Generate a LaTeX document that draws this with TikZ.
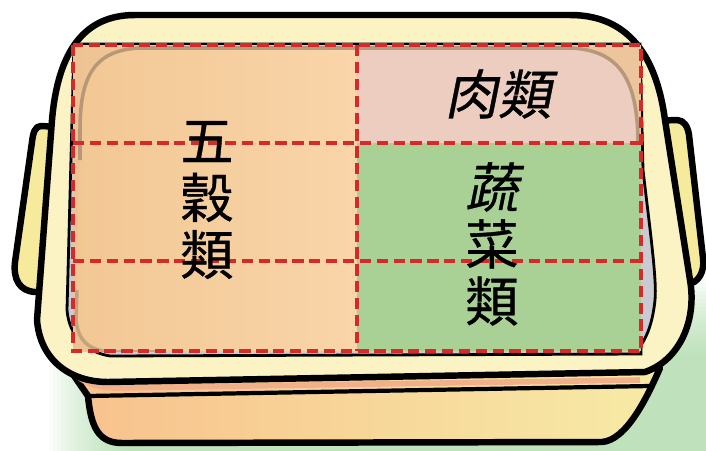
\documentclass[tikz,border=0pt]{standalone}
\usepackage{fontspec}
\newfontfamily\cjk[FakeBold=0.6]{Noto Sans CJK TC}
\newfontfamily\cjkslant[FakeSlant=0.2,FakeBold=0.6]{Noto Sans CJK TC}
\definecolor{lidcream}{HTML}{FBF3C4}
\definecolor{handleyellow}{HTML}{F6EB9C}
\definecolor{basesalmon}{HTML}{F2B08A}
\definecolor{baseorange}{HTML}{F8C18D}
\definecolor{baseyellow}{HTML}{F7EBA6}
\definecolor{wellgrey}{HTML}{CACAD3}
\definecolor{grainpeach}{HTML}{F9D5A9}
\definecolor{grainshade}{HTML}{F2C794}
\definecolor{meatpink}{HTML}{ECCDC0}
\definecolor{vegegreen}{HTML}{A9D196}
\definecolor{traybrown}{HTML}{A98C70}
\definecolor{cornertan}{HTML}{EDC394}
\definecolor{gridred}{HTML}{D42A2A}
\definecolor{shadowgreen}{HTML}{9CD398}

\begin{document}
\begin{tikzpicture}[x=0.025cm, y=-0.025cm,
  outline/.style={draw=black, line width=4.6pt, line join=round},
  rim/.style={draw=black, line width=2pt},
  cutline/.style={draw=gridred, line width=2.4pt, dash pattern=on 8pt off 4pt},
  foodlabel/.style={font=\cjk\fontsize{38}{40.5}\selectfont, align=center, inner sep=0pt}]
  \useasboundingbox (0,0) rectangle (706,450);

  % soft green shadow under the box
  \foreach \i in {0,...,19}
    \fill[shadowgreen, opacity=0.05, rounded corners=1.2cm] (125-4*\i,355-4*\i) rectangle (780,520);

  % side handles
  \filldraw[fill=handleyellow, outline] (60,127) -- (41,126) .. controls (35,126) and (33,133) .. (32,142)
    -- (15,262) .. controls (13,280) and (20,291) .. (35,292) -- (55,292) -- cycle;
  \filldraw[fill=handleyellow, outline] (650,121) -- (677,120) .. controls (684,120) and (688,127) .. (689,135)
    -- (703,258) .. controls (705,272) and (698,283) .. (688,284) -- (670,284) -- cycle;

  % base tray
  \shadedraw[outline, left color=baseorange, right color=baseyellow] (70,370) -- (88,396)
    .. controls (91,428) and (99,443) .. (122,443) -- (602,442)
    .. controls (626,440) and (646,400) .. (660,368) -- cycle;
  \draw[basesalmon, line width=4pt] (72,372) .. controls (85,384) and (100,388) .. (115,388) -- (640,380);
  \draw[black, line width=3pt] (88,396) -- (650,386);

  % lid
  \filldraw[fill=lidcream, outline] (135,15) -- (570,15) .. controls (620,15) and (655,45) .. (665,120)
    -- (690,280) .. controls (697,320) and (680,360) .. (645,372) -- (108,382)
    .. controls (70,382) and (40,360) .. (37,320) -- (52,120)
    .. controls (58,50) and (85,15) .. (135,15) -- cycle;

  % well inside the rim
  \filldraw[fill=wellgrey, rim] (74,44) -- (640,44) -- (643,170) .. controls (650,230) and (657,280) .. (655,300)
    .. controls (653,320) and (648,335) .. (641,345) -- (641,354) -- (110,356)
    .. controls (85,352) and (69,335) .. (67,310) -- cycle;

  % food sections
  \shade[left color=grainshade, right color=grainpeach] (73,45) rectangle (357,351);
  \fill[meatpink] (357,45) rectangle (641,143);
  \begin{scope}
    \clip (73,45) rectangle (641,351);
    \fill[cornertan, opacity=0.8, even odd rule] (73,45) rectangle (641,351)
      (80,130) .. controls (80,75) and (95,50) .. (140,48) -- (570,48)
      .. controls (620,50) and (637,80) .. (638,140) -- (638,360) -- (110,352)
      .. controls (88,350) and (78,340) .. (76,320) -- cycle;
    \draw[traybrown, line width=2.5pt, opacity=0.8] (80,160) -- (80,130)
      .. controls (80,75) and (95,50) .. (140,48) -- (570,48)
      .. controls (620,50) and (637,80) .. (638,140) -- (638,170);
    \draw[traybrown, line width=2.5pt, opacity=0.6] (77,290) -- (76,320)
      .. controls (78,340) and (88,350) .. (110,352) -- (160,352);
  \end{scope}
  \fill[vegegreen] (357,143) rectangle (641,351);

  % dashed grid of portions
  \draw[cutline] (73,45) rectangle (641,351);
  \draw[cutline] (357,45) -- (357,351);
  \foreach \y in {143,261}
    \draw[cutline] (73,\y) -- (641,\y);

  % labels
  \node[foodlabel] (grains) at (207,200) {五\\穀\\類};
  \node[foodlabel, font=\cjkslant\fontsize{38}{40.5}\selectfont] (meat) at (498,94) {肉類};
  \node[foodlabel] (vege) at (492,244) {{\cjkslant 蔬}\\菜\\類};
\end{tikzpicture}
\end{document}
